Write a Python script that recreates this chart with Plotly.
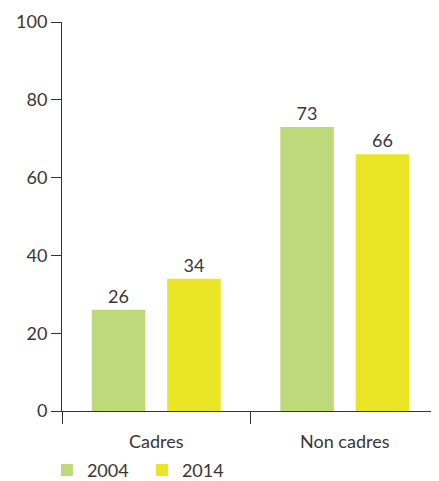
import plotly.graph_objects as go

categories = ["Cadres", "Non cadres"]
series_names = ["2004", "2014"]
values_2004 = [26, 73]
values_2014 = [34, 66]
y_ticks = [0, 20, 40, 60, 80, 100]

colors = {"2004": "#bdd97a", "2014": "#ebe625"}
txt = "#3a3636"
font_family = "Lato, 'Open Sans', sans-serif"

fig = go.Figure()
for name, vals in zip(series_names, [values_2004, values_2014]):
    fig.add_trace(go.Bar(
        x=categories, y=vals, name=name,
        marker=dict(color=colors[name], line=dict(width=0)),
        text=[str(v) for v in vals], textposition="outside",
        textfont=dict(size=18, color=txt, family=font_family),
        cliponaxis=False,
    ))

# page body has an 8px margin, so the figure is sized to fit the 439x481 window
fig.update_layout(
    width=431, height=473,
    margin=dict(l=54, r=0, t=14, b=70, autoexpand=False),
    plot_bgcolor="white", paper_bgcolor="white",
    barmode="group", bargap=0.2, bargroupgap=0.29,
    font=dict(family=font_family, size=18, color=txt),
    showlegend=True,
    legend=dict(orientation="h", x=-0.04, y=-0.105, xanchor="left", yanchor="top",
                font=dict(size=18, color=txt), itemwidth=30, traceorder="normal",
                entrywidth=50, entrywidthmode="pixels"),
    xaxis=dict(
        range=[-0.5, 1.5], showline=True, linecolor="#333", linewidth=1,
        ticks="outside", tickson="boundaries", ticklen=12, tickcolor="#333",
        showgrid=False, tickfont=dict(size=18, color=txt), automargin=False,
        ticklabelstandoff=14,
    ),
    yaxis=dict(
        range=[0, 100], tickvals=y_ticks, showline=True, linecolor="#333", linewidth=1,
        ticks="outside", ticklen=10, tickcolor="#333", showgrid=False, zeroline=False,
        tickfont=dict(size=18, color=txt), automargin=False,
    ),
)

fig.write_html("out.html")
